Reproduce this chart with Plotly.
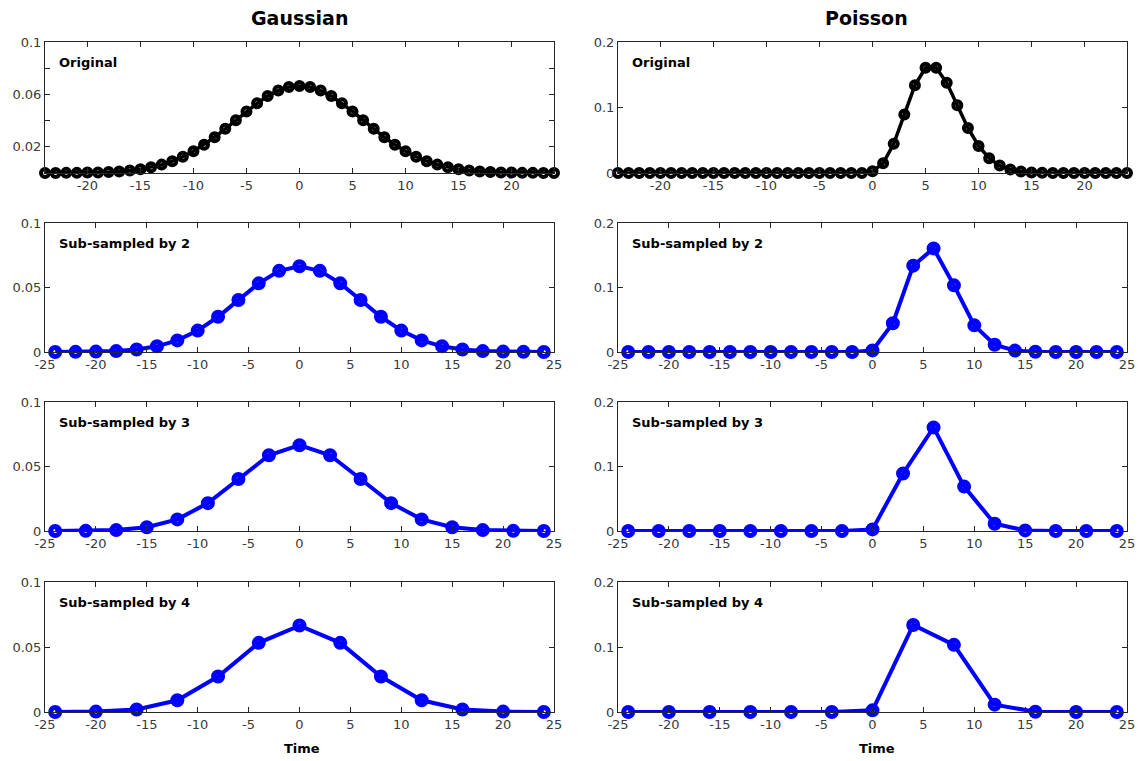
import plotly.graph_objects as go

# ---------------- data ----------------
t_orig = list(range(-24, 25))
gauss_orig = [0.0000, 0.0000, 0.0001, 0.0001, 0.0003, 0.0004, 0.0007, 0.0012, 0.0019, 0.0029,
              0.0044, 0.0064, 0.0090, 0.0124, 0.0166, 0.0216, 0.0273, 0.0337, 0.0403, 0.0470,
              0.0532, 0.0587, 0.0629, 0.0656, 0.0665, 0.0656, 0.0629, 0.0587, 0.0532, 0.0470,
              0.0403, 0.0337, 0.0273, 0.0216, 0.0166, 0.0124, 0.0090, 0.0064, 0.0044, 0.0029,
              0.0019, 0.0012, 0.0007, 0.0004, 0.0003, 0.0001, 0.0001, 0.0000, 0.0000]
poisson_orig = [0.0] * 24 + [0.0025, 0.0149, 0.0446, 0.0892, 0.1339, 0.1606, 0.1606, 0.1377,
                             0.1033, 0.0688, 0.0413, 0.0225, 0.0113, 0.0052, 0.0022, 0.0009,
                             0.0003, 0.0001, 0.0, 0.0, 0.0, 0.0, 0.0, 0.0, 0.0]

t_sub2 = list(range(-24, 25, 2))
gauss_sub2 = [0.0000, 0.0001, 0.0003, 0.0007, 0.0019, 0.0044, 0.0090, 0.0166, 0.0273, 0.0403,
              0.0532, 0.0629, 0.0665, 0.0629, 0.0532, 0.0403, 0.0273, 0.0166, 0.0090, 0.0044,
              0.0019, 0.0007, 0.0003, 0.0001, 0.0000]
poisson_sub2 = [0.0] * 12 + [0.0025, 0.0446, 0.1339, 0.1606, 0.1033, 0.0413, 0.0113, 0.0022,
                             0.0003, 0.0, 0.0, 0.0, 0.0]

t_sub3 = list(range(-24, 25, 3))
gauss_sub3 = [0.0000, 0.0001, 0.0007, 0.0029, 0.0090, 0.0216, 0.0403, 0.0587, 0.0665,
              0.0587, 0.0403, 0.0216, 0.0090, 0.0029, 0.0007, 0.0001, 0.0000]
poisson_sub3 = [0.0] * 8 + [0.0025, 0.0892, 0.1606, 0.0688, 0.0113, 0.0009, 0.0, 0.0, 0.0]

t_sub4 = list(range(-24, 25, 4))
gauss_sub4 = [0.0000, 0.0003, 0.0019, 0.0090, 0.0273, 0.0532, 0.0665, 0.0532, 0.0273,
              0.0090, 0.0019, 0.0003, 0.0000]
poisson_sub4 = [0.0] * 6 + [0.0025, 0.1339, 0.1033, 0.0113, 0.0003, 0.0, 0.0]

row_labels = ["Original", "Sub-sampled by 2", "Sub-sampled by 3", "Sub-sampled by 4"]
col_titles = ["Gaussian", "Poisson"]
x_label = "Time"

gauss_rows = [(t_orig, gauss_orig), (t_sub2, gauss_sub2), (t_sub3, gauss_sub3), (t_sub4, gauss_sub4)]
poisson_rows = [(t_orig, poisson_orig), (t_sub2, poisson_sub2), (t_sub3, poisson_sub3), (t_sub4, poisson_sub4)]

gauss_yticks_top = [0, 0.02, 0.04, 0.06, 0.08, 0.1]
gauss_ytext_top = ["", "0.02", "", "0.06", "", "0.1"]
gauss_yticks = [0, 0.05, 0.1]
gauss_ytext = ["0", "0.05", "0.1"]
poisson_yticks = [0, 0.1, 0.2]
poisson_ytext = ["0", "0.1", "0.2"]
xticks_top = [-20, -15, -10, -5, 0, 5, 10, 15, 20]
xticks = [-25, -20, -15, -10, -5, 0, 5, 10, 15, 20, 25]

# ---------------- layout geometry ----------------
W, H = 1140, 761
col_dom = [(45 / W, 554 / W), (618 / W, 1127 / W)]
row_px = [(42, 173), (223, 352), (402, 531), (582, 712)]
row_dom = [(1 - b / H, 1 - t / H) for (t, b) in row_px]

FONT = "DejaVu Sans"
AX_COL = "#262626"
TICK_COL = "#3a3a3a"

fig = go.Figure()
layout = dict(
    width=W, height=H,
    margin=dict(l=0, r=0, t=0, b=0, autoexpand=False),
    paper_bgcolor="white", plot_bgcolor="white",
    showlegend=False,
    font=dict(family=FONT, size=13, color=TICK_COL),
)
annotations = []

for r in range(4):
    for c in range(2):
        n = r * 2 + c + 1
        xa = "x" if n == 1 else f"x{n}"
        ya = "y" if n == 1 else f"y{n}"
        xs, ys = (gauss_rows if c == 0 else poisson_rows)[r]
        if r == 0:
            color, lw, ms, mlw = "black", 3.5, 8, 4
        else:
            color, lw, ms, mlw = "#0000ff", 4, 9, 5
        fig.add_trace(go.Scatter(
            x=xs, y=ys, xaxis=xa, yaxis=ya, mode="lines+markers",
            line=dict(color=color, width=lw),
            marker=dict(symbol="circle-open", size=ms, color=color,
                        line=dict(color=color, width=mlw)),
            cliponaxis=False, hoverinfo="skip",
        ))

        if r == 0:
            xr, xtv = [-24, 24], xticks_top
        else:
            xr, xtv = [-25, 25], xticks
        if c == 0:
            if r == 0:
                ytv, ytt, yr = gauss_yticks_top, gauss_ytext_top, [0, 0.1]
            else:
                ytv, ytt, yr = gauss_yticks, gauss_ytext, [0, 0.1]
        else:
            ytv, ytt, yr = poisson_yticks, poisson_ytext, [0, 0.2]

        common = dict(showline=True, linecolor=AX_COL, linewidth=1, mirror="allticks",
                      ticks="inside", ticklen=5, tickwidth=1, tickcolor=AX_COL,
                      showgrid=False, zeroline=False, fixedrange=True, automargin=False,
                      tickfont=dict(family=FONT, size=13, color=TICK_COL))
        layout["xaxis" if n == 1 else f"xaxis{n}"] = dict(
            domain=list(col_dom[c]), anchor=ya, range=xr,
            tickmode="array", tickvals=xtv, ticktext=[str(v) for v in xtv], **common)
        layout["yaxis" if n == 1 else f"yaxis{n}"] = dict(
            domain=list(row_dom[r]), anchor=xa, range=yr,
            tickmode="array", tickvals=ytv, ticktext=ytt, **common)

        annotations.append(dict(
            text=f"<b>{row_labels[r]}</b>", xref=f"{xa} domain", yref=f"{ya} domain",
            x=0.024, y=0.84, xanchor="left", yanchor="middle", showarrow=False,
            font=dict(family=FONT, size=13, color="black")))

# column titles
for c, cx in enumerate([299.5 / W, 866 / W]):
    annotations.append(dict(
        text=f"<b>{col_titles[c]}</b>", xref="paper", yref="paper",
        x=cx, y=1 - 18 / H, xanchor="center", yanchor="middle", showarrow=False,
        font=dict(family=FONT, size=19, color="black")))

# x labels
for cx in [302 / W, 877 / W]:
    annotations.append(dict(
        text=f"<b>{x_label}</b>", xref="paper", yref="paper",
        x=cx, y=1 - 748 / H, xanchor="center", yanchor="middle", showarrow=False,
        font=dict(family=FONT, size=13, color="black")))

layout["annotations"] = annotations
fig.update_layout(**layout)
fig.write_html("out.html")
